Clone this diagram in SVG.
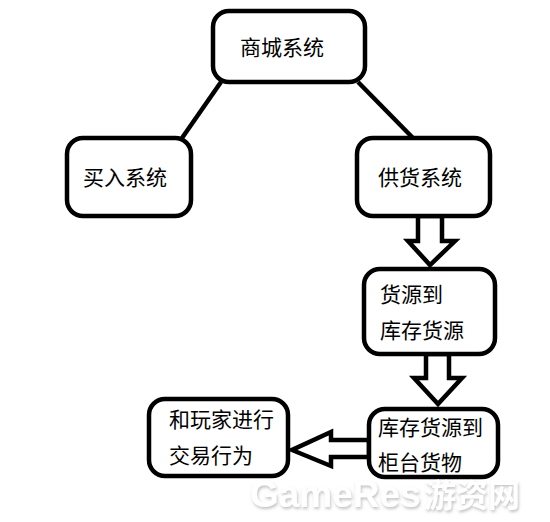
<svg xmlns="http://www.w3.org/2000/svg" width="550" height="522" viewBox="0 0 550 522">
<defs>
<filter id="sh" x="-10%" y="-30%" width="120%" height="160%">
<feDropShadow dx="1" dy="2" stdDeviation="1.5" flood-color="#999" flood-opacity="0.6"/>
</filter>
</defs>
<style>
.box{fill:#fff;stroke:#000;stroke-width:4.5}
.t{font-family:"Noto Sans CJK SC","Microsoft YaHei",sans-serif;font-size:21px;fill:#000}
.ln{stroke:#000;stroke-width:4.5;fill:none}
.ar{fill:#fff;stroke:#000;stroke-width:4.5;stroke-linejoin:miter}
.wm{font-family:"Liberation Sans","Noto Sans CJK SC",sans-serif;font-weight:bold;font-size:37px;fill:#fff}
</style>
<rect width="550" height="522" fill="#fff"/>
<g id="connectors">
<line class="ln" x1="221" y1="82" x2="182" y2="138"/>
<line class="ln" x1="358" y1="82" x2="413" y2="138"/>
<polygon class="ar" points="418,216 442,216 442,241 455,241 430,265 408,241 418,241"/>
<polygon class="ar" points="426,354 449,354 449,378 462,378 438,404 414,378 426,378"/>
<polygon class="ar" points="369,440 331,440 331,432 292,450 331,466 331,457 369,457"/>
</g>
<g id="n1"><rect class="box" x="213" y="11" width="152" height="71" rx="16"/><text class="t" x="240" y="55">商城系统</text></g>
<g id="n2"><rect class="box" x="67" y="138" width="124" height="78" rx="16"/><text class="t" x="83" y="185">买入系统</text></g>
<g id="n3"><rect class="box" x="357" y="138" width="133" height="78" rx="16"/><text class="t" x="378" y="185">供货系统</text></g>
<g id="n4"><rect class="box" x="364" y="269" width="131" height="85" rx="16"/><text class="t" x="380" y="302">货源到</text><text class="t" x="380" y="338">库存货源</text></g>
<g id="n5"><rect class="box" x="369" y="409" width="129" height="68" rx="16"/><text class="t" x="378" y="435">库存货源到</text><text class="t" x="378" y="470">柜台货物</text></g>
<g id="n6"><rect class="box" x="149" y="399" width="139" height="77" rx="16"/><text class="t" x="169" y="427">和玩家进行</text><text class="t" x="169" y="463">交易行为</text></g>
<g id="watermark" filter="url(#sh)">
<text class="wm" x="250" y="507">GameRes</text>
<text class="wm" x="424" y="507" style="font-size:32px">游资网</text>
</g>
</svg>
